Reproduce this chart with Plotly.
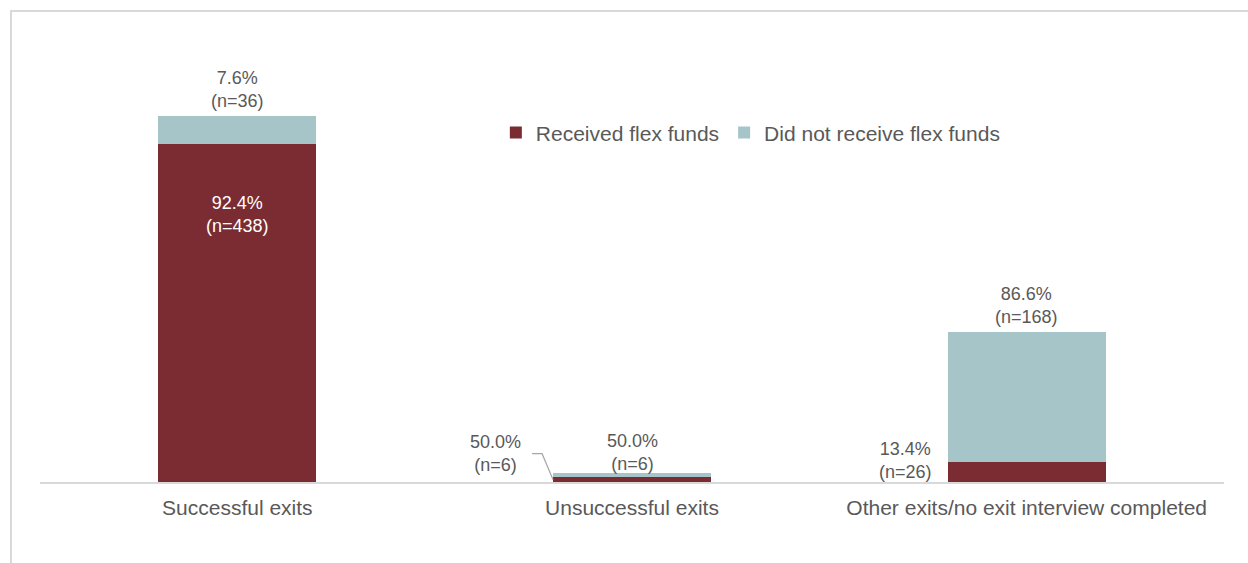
import plotly.graph_objects as go

# Exit outcome by flex-fund receipt (counts of households)
categories = ["Successful exits", "Unsuccessful exits", "Other exits/no exit interview completed"]
received = [438, 6, 26]
not_received = [36, 6, 168]
series_names = ["Received flex funds", "Did not receive flex funds"]

RED = "#7B2C33"
TEAL = "#A5C5C9"
GRAY_TEXT = "#595959"
LINE = "#D9D9D9"
FONT = "Liberation Sans, Arial, sans-serif"

totals = [a + b for a, b in zip(received, not_received)]
pct_rec = [100 * a / t for a, t in zip(received, totals)]
pct_not = [100 * b / t for b, t in zip(not_received, totals)]

BAR_W = 0.4
x_idx = list(range(len(categories)))

fig = go.Figure()
fig.add_trace(go.Bar(x=x_idx, y=received, name=series_names[0], marker_color=RED,
                     width=BAR_W, marker_line_width=0))
fig.add_trace(go.Bar(x=x_idx, y=not_received, name=series_names[1], marker_color=TEAL,
                     width=BAR_W, marker_line_width=0))

def label(p, n):
    return f"{p:.1f}%<br>(n={n})"

ann = []
# labels above the top segment of every bar
top_shift = [3, -3, 3]
for i in x_idx:
    ann.append(dict(x=i, y=totals[i], xref="x", yref="y", text=label(pct_not[i], not_received[i]),
                    showarrow=False, yanchor="bottom", yshift=top_shift[i],
                    font=dict(size=18, color=GRAY_TEXT, family=FONT)))
# label inside the large red segment
ann.append(dict(x=0, y=received[0], xref="x", yref="y", text=label(pct_rec[0], received[0]),
                showarrow=False, yanchor="top", yshift=-47,
                font=dict(size=18, color="white", family=FONT)))
# labels to the left of the small red segments
ann.append(dict(x=1 - BAR_W / 2, y=received[1] / 2, xref="x", yref="y",
                text=label(pct_rec[1], received[1]), showarrow=False,
                xanchor="right", yanchor="middle", xshift=-30, yshift=26,
                font=dict(size=18, color=GRAY_TEXT, family=FONT)))
ann.append(dict(x=2 - BAR_W / 2, y=received[2], xref="x", yref="y",
                text=label(pct_rec[2], received[2]), showarrow=False,
                xanchor="right", yanchor="middle", xshift=-14, yshift=1,
                font=dict(size=18, color=GRAY_TEXT, family=FONT)))

px_per_x = 1 / 395.0
px_per_y = 1 / 0.772
x_edge = 1 - BAR_W / 2
y_mid = received[1] / 2
leader = (f"M {x_edge - 21 * px_per_x},{y_mid + 26 * px_per_y} "
          f"L {x_edge - 11 * px_per_x},{y_mid + 26 * px_per_y} "
          f"L {x_edge},{y_mid}")

shapes = [
    dict(type="path", xref="x", yref="y", path=leader,
         line=dict(color="#A6A6A6", width=1.2)),
    # chart frame
    dict(type="rect", xref="paper", yref="paper", x0=-0.0245, x1=1.2, y0=-0.4, y1=1.0903,
         line=dict(color=LINE, width=2), layer="below"),
]

fig.update_layout(
    barmode="stack",
    width=1248, height=563,
    margin=dict(l=40, r=24, t=50, b=81),
    paper_bgcolor="white", plot_bgcolor="white",
    font=dict(family=FONT, color=GRAY_TEXT, size=21),
    showlegend=True,
    legend=dict(orientation="h", x=0.385, y=0.808, xanchor="left", yanchor="middle",
                font=dict(size=21, color=GRAY_TEXT), traceorder="normal",
                itemwidth=30, bgcolor="rgba(0,0,0,0)"),
    xaxis=dict(tickmode="array", tickvals=x_idx, ticktext=categories,
               range=[-0.5, 2.5], showgrid=False, zeroline=False,
               showline=True, linecolor=LINE, linewidth=2, ticks="",
               ticklabelstandoff=6,
               tickfont=dict(size=21, color=GRAY_TEXT)),
    yaxis=dict(range=[0, 560], visible=False, showgrid=False, zeroline=False),
    annotations=ann,
    shapes=shapes,
    bargap=0.6,
)

fig.write_html("out.html")
